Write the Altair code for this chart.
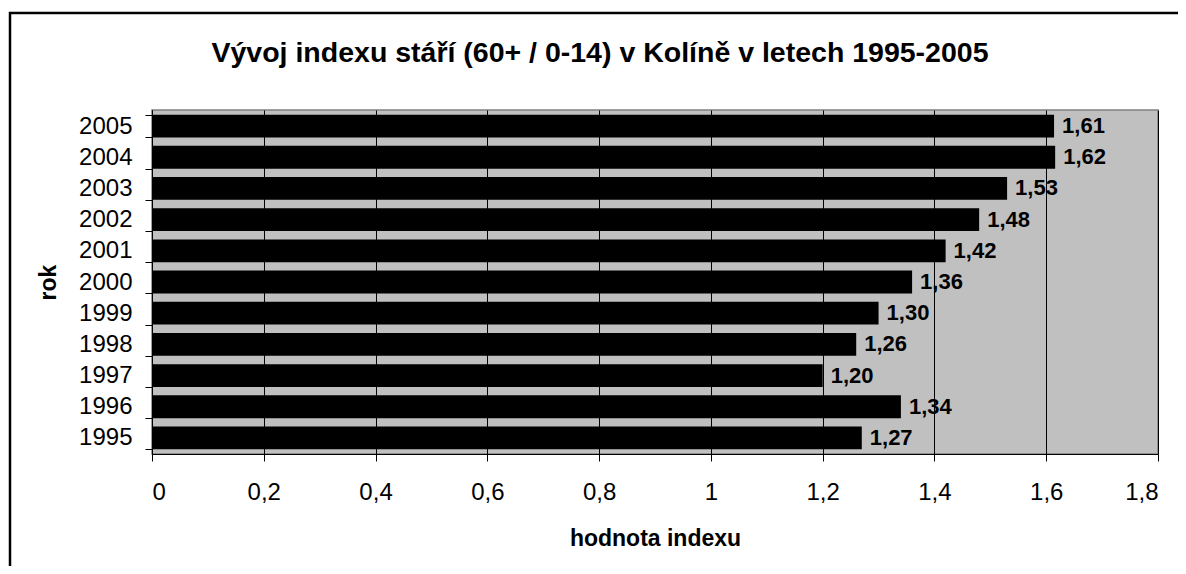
import altair as alt
import pandas as pd

years = ["1995", "1996", "1997", "1998", "1999", "2000", "2001", "2002", "2003", "2004", "2005"]
index_values = [1.27, 1.34, 1.20, 1.26, 1.30, 1.36, 1.42, 1.48, 1.53, 1.616, 1.614]
x_ticks = [0, 0.2, 0.4, 0.6, 0.8, 1.0, 1.2, 1.4, 1.6, 1.8]

df = pd.DataFrame({"rok": years, "index": index_values})

FONT = "Liberation Sans"

base = alt.Chart(df)

x_enc = alt.X(
    "index:Q",
    scale=alt.Scale(domain=[0, 1.8], nice=False),
    axis=alt.Axis(
        values=x_ticks,
        labelExpr="replace(format(datum.value, '~r'), '.', ',')",
        title="hodnota indexu",
        titleFont=FONT, titleFontSize=23, titleFontWeight="bold", titleColor="black",
        titlePadding=23,
        labelFont=FONT, labelFontSize=24, labelColor="black", labelPadding=19,
        tickColor="black", tickSize=7, domainColor="black",
        grid=True, gridColor="black", gridWidth=1,
    ),
)
y_enc = alt.Y(
    "rok:O",
    sort="descending",
    scale=alt.Scale(paddingInner=0.27, paddingOuter=0.15),
    axis=alt.Axis(
        title="rok",
        titleFont=FONT, titleFontSize=23, titleFontWeight="bold", titleColor="black",
        titlePadding=18,
        labelFont=FONT, labelFontSize=24, labelColor="black", labelPadding=13,
        tickColor="black", tickSize=7, tickBand="extent", domainColor="black",
        grid=False,
    ),
)

bars = base.mark_bar(color="black").encode(x=x_enc, y=y_enc)

labels = base.transform_calculate(
    lab="replace(format(datum.index, '.2f'), '.', ',')"
).mark_text(
    align="left", baseline="middle", dx=8, font=FONT, fontSize=22, fontWeight="bold", color="black"
).encode(x="index:Q", y=alt.Y("rok:O", sort="descending"), text="lab:N")

border = alt.Chart(alt.Data(values=[{"a": 1}])).mark_rect(
    filled=False, fillOpacity=0, stroke="black", strokeWidth=2.5
).encode(
    x=alt.value(-142), x2=alt.value(1200), y=alt.value(-97), y2=alt.value(700)
)

chart = alt.layer(border, bars, labels).properties(
    width=1006,
    height=344,
    autosize=alt.AutoSizeParams(type="none"),
    padding={"left": 144, "top": 102, "right": 20, "bottom": 112},
    title=alt.TitleParams(
        "Vývoj indexu stáří (60+ / 0-14) v Kolíně v letech 1995-2005",
        font=FONT, fontSize=28.5, fontWeight="bold", color="black",
        anchor="middle", dx=-55, offset=0, dy=56,
    ),
).configure(
    background="white"
).configure_view(
    fill="#C0C0C0", stroke="#808080", strokeWidth=1.5
)

chart.save("out.html", embed_options={"renderer": "svg", "actions": False})
